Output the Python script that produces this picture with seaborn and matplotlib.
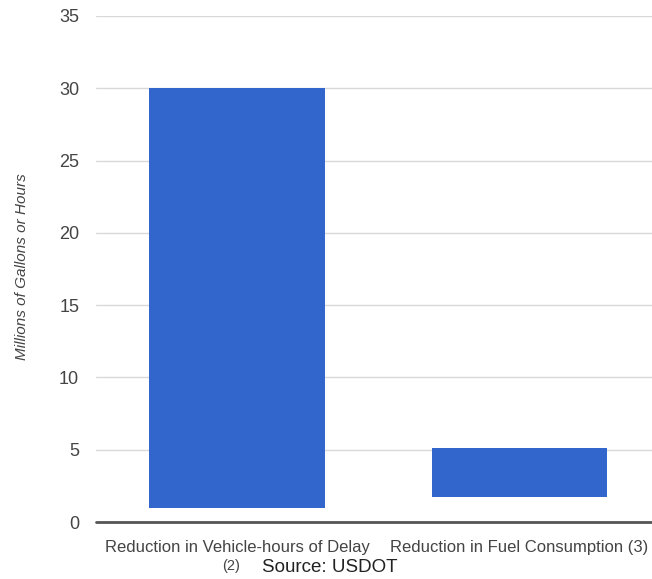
import matplotlib
matplotlib.use("Agg")
import matplotlib.pyplot as plt
import matplotlib.transforms as mtransforms
import seaborn as sns
import pandas as pd

# Chart data (millions of gallons or hours)
categories = ["Reduction in Vehicle-hours of Delay\n(2)", "Reduction in Fuel Consumption (3)"]
range_low = [1.0, 1.7]
range_high = [30.0, 5.1]
y_ticks = [0, 5, 10, 15, 20, 25, 30, 35]

df = pd.DataFrame({
    "category": categories,
    "low": range_low,
    "high": range_high,
})
df["span"] = df["high"] - df["low"]

sns.set_theme(style="white")
plt.rcParams["font.family"] = ["Liberation Sans", "DejaVu Sans"]

fig = plt.figure(figsize=(6.52, 5.79), dpi=100)
ax = fig.add_axes([0.147, 0.0984, 0.853, 0.874])

sns.barplot(data=df, x="category", y="span", bottom=df["low"].to_numpy(),
            color="#3366cc", saturation=1, width=0.62, ax=ax, zorder=3,
            linewidth=0)

ax.set_ylim(0, 35)
ax.set_xlim(-0.5, 1.47)
ax.set_yticks(y_ticks)
ax.set_yticklabels([str(t) for t in y_ticks], color="#444444", fontsize=13)
ax.tick_params(axis="y", length=0, pad=12)

# first line of each category as the tick label, any footnote line below it in a smaller font
first_lines = [c.split("\n")[0] for c in categories]
ax.set_xticks(range(len(categories)))
ax.set_xticklabels(first_lines, fontsize=12, color="#444444")
ax.tick_params(axis="x", length=0, pad=13)
trans = mtransforms.blended_transform_factory(ax.transData, fig.transFigure)
for i, c in enumerate(categories):
    parts = c.split("\n")
    if len(parts) > 1:
        ax.text(i - 0.02, 1 - 566 / 579, parts[1], transform=trans, ha="center",
                va="center", fontsize=10.5, color="#444444")

for t in y_ticks[1:]:
    ax.axhline(t, color="#d9d9d9", lw=1, zorder=1)
ax.axhline(0, color="#555555", lw=2, zorder=4, clip_on=False)

for s in ax.spines.values():
    s.set_visible(False)

ax.set_xlabel("")
ax.set_ylabel("Millions of Gallons or Hours", fontsize=11, style="italic",
              color="#444444")
ax.yaxis.set_label_coords(-0.12, 0.505)

fig.text(262 / 652, 1 - 568 / 579, "Source: USDOT", fontsize=13.5,
         color="#222222", va="center", ha="left")

fig.savefig("out.png", dpi=100, facecolor="white")
